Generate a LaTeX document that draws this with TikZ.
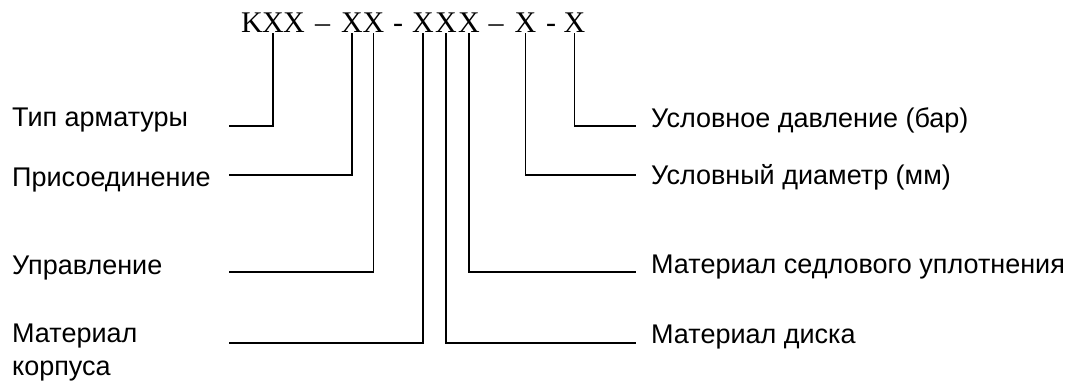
\documentclass[tikz,border=0pt]{standalone}
\usepackage{fontspec}
\setmainfont{Liberation Serif}
\setsansfont{Liberation Sans}

\begin{document}
\begin{tikzpicture}[x=1pt, y=-1pt,
  every node/.style={inner sep=0pt},
  codechar/.style={anchor=base, outer sep=1pt, font=\fontsize{30}{36}\selectfont},
  lbl/.style={anchor=base west, font=\sffamily\fontsize{27}{33}\selectfont, align=left},
  lead/.style={line width=1.7pt}]
  \useasboundingbox (0,0) rectangle (1069,381);
  % the code KXX - XX - XXX - X - X
  \node[codechar] (k) at (252,32) {K};
  \node[codechar] (a) at (273,32) {X};
  \node[codechar] (b) at (294,32) {X};
  \node[codechar] (d1) at (322.5,32) {\textendash};
  \node[codechar] (c) at (352,32) {X};
  \node[codechar] (e) at (373.5,32) {X};
  \node[codechar] (h1) at (398,32) {-};
  \node[codechar] (f) at (423,32) {X};
  \node[codechar] (g) at (446,32) {X};
  \node[codechar] (h) at (469,32) {X};
  \node[codechar] (d2) at (496,32) {\textendash};
  \node[codechar] (i) at (525.5,32) {X};
  \node[codechar] (h2) at (551,32) {-};
  \node[codechar] (j) at (574.5,32) {X};
  % labels on the left
  \node[lbl] (tip) at (12,126) {Тип арматуры};
  \node[lbl] (pris) at (12,186) {Присоединение};
  \node[lbl] (upr) at (12,274) {Управление};
  \node[lbl] (korp) at (12,375) {Материал\\корпуса};
  % labels on the right
  \node[lbl] (davl) at (651,127) {Условное давление (бар)};
  \node[lbl] (diam) at (651,184) {Условный диаметр (мм)};
  \node[lbl] (sedl) at (651,273) {Материал седлового уплотнения};
  \node[lbl] (disk) at (651,343.5) {Материал диска};
  % free ends of the leaders
  \coordinate (tipend) at (229,126);
  \coordinate (prisend) at (229,175);
  \coordinate (uprend) at (229,272);
  \coordinate (korpend) at (229,343);
  \coordinate (davlend) at (636,126);
  \coordinate (diamend) at (636,175);
  \coordinate (sedlend) at (636,272);
  \coordinate (diskend) at (636,343);
  % leaders
  \draw[lead] (a.south) |- (tipend);
  \draw[lead] (c.south) |- (prisend);
  \draw[lead] (e.south) |- (uprend);
  \draw[lead] (f.south) |- (korpend);
  \draw[lead] (g.south) |- (diskend);
  \draw[lead] (h.south) |- (sedlend);
  \draw[lead] (i.south) |- (diamend);
  \draw[lead] (j.south) |- (davlend);
\end{tikzpicture}
\end{document}
